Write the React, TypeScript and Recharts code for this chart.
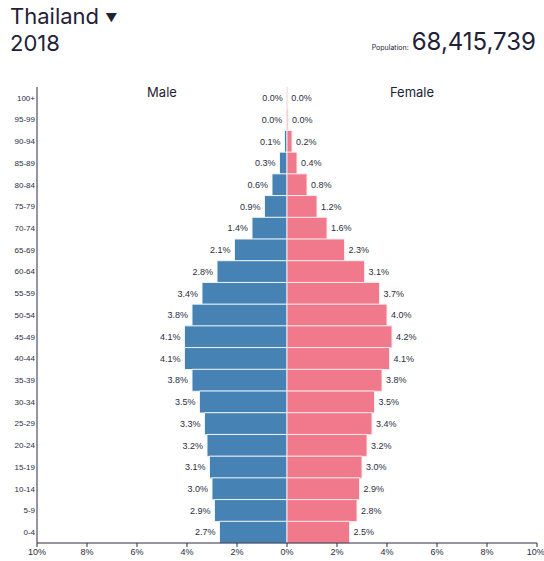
import { BarChart, Bar, XAxis, YAxis, LabelList } from "recharts";

const ageGroups = ["100+", "95-99", "90-94", "85-89", "80-84", "75-79", "70-74", "65-69", "60-64", "55-59", "50-54", "45-49", "40-44", "35-39", "30-34", "25-29", "20-24", "15-19", "10-14", "5-9", "0-4"];
const maleShare = [0.01, 0.03, 0.1, 0.3, 0.6, 0.9, 1.4, 2.1, 2.8, 3.4, 3.8, 4.1, 4.1, 3.8, 3.5, 3.3, 3.2, 3.1, 3.0, 2.9, 2.7];
const femaleShare = [0.01, 0.04, 0.2, 0.4, 0.8, 1.2, 1.6, 2.3, 3.1, 3.7, 4.0, 4.2, 4.1, 3.8, 3.5, 3.4, 3.2, 3.0, 2.9, 2.8, 2.5];
const xTicks = [-10, -8, -6, -4, -2, 0, 2, 4, 6, 8, 10];

const data = ageGroups.map((age, i) => ({ age, male: -maleShare[i], female: femaleShare[i] }));

const ink = "#2b2d42";
const fontChart = "'Liberation Sans', Arial, sans-serif";
const fontHead = "Inter, 'Noto Sans', sans-serif";

const pct = (v: number) => Math.abs(v).toFixed(1) + "%";

function SideLabel(props: any) {
  const { x, y, width, height, value, side } = props;
  const left = Math.min(x, x + width);
  const right = Math.max(x, x + width);
  const cy = y + height / 2;
  if (side === "male") {
    return (
      <text x={left - 4} y={cy} dy="0.35em" textAnchor="end" fontSize={9} fill={ink} fontFamily={fontChart}>
        {pct(value)}
      </text>
    );
  }
  return (
    <text x={right + 4} y={cy} dy="0.35em" textAnchor="start" fontSize={9} fill={ink} fontFamily={fontChart}>
      {pct(value)}
    </text>
  );
}

export default function App() {
  return (
    <div style={{ position: "absolute", left: 0, top: 0, width: 544, height: 561, background: "#fff", fontFamily: fontHead, color: "#1f2237" }}>
      <div style={{ position: "absolute", left: 10, top: 2, fontSize: 22, lineHeight: "28px" }}>
        Thailand <span style={{ fontSize: 12, verticalAlign: "middle" }}>▼</span>
      </div>
      <div style={{ position: "absolute", left: 10, top: 29, fontSize: 22, lineHeight: "28px" }}>2018</div>
      <div style={{ position: "absolute", right: 8, top: 28, lineHeight: "28px", whiteSpace: "nowrap" }}>
        <span style={{ fontSize: 7, marginRight: 3 }}>Population:</span>
        <span style={{ fontSize: 24 }}>68,415,739</span>
      </div>
      <div style={{ position: "absolute", left: 37, width: 250, top: 84, textAlign: "center", fontSize: 13 }}>Male</div>
      <div style={{ position: "absolute", left: 287, width: 250, top: 84, textAlign: "center", fontSize: 13 }}>Female</div>
      <div style={{ position: "absolute", left: 0, top: 0 }}>
        <BarChart
          width={544}
          height={561}
          data={data}
          layout="vertical"
          stackOffset="sign"
          barCategoryGap={0}
          margin={{ top: 87, right: 7, bottom: 0, left: 0 }}
        >
          <XAxis
            type="number"
            domain={[-10, 10]}
            ticks={xTicks}
            allowDataOverflow
            tickFormatter={(v: number) => Math.abs(v) + "%"}
            height={18}
            tickSize={4}
            tickMargin={2}
            stroke={ink}
            tick={{ fontSize: 9, fill: ink, fontFamily: fontChart }}
          />
          <YAxis
            type="category"
            dataKey="age"
            width={37}
            tickLine={false}
            tickSize={2}
            tickMargin={0}
            stroke={ink}
            interval={0}
            tick={{ fontSize: 8, fill: ink, fontFamily: fontChart }}
          />
          <Bar dataKey="male" stackId="a" fill="#4682b4" stroke="#eef3f8" strokeWidth={1} isAnimationActive={false}>
            <LabelList dataKey="male" content={(p: any) => <SideLabel {...p} side="male" />} />
          </Bar>
          <Bar dataKey="female" stackId="a" fill="#f07a8b" stroke="#fbe9ec" strokeWidth={1} isAnimationActive={false}>
            <LabelList dataKey="female" content={(p: any) => <SideLabel {...p} side="female" />} />
          </Bar>
        </BarChart>
      </div>
    </div>
  );
}
